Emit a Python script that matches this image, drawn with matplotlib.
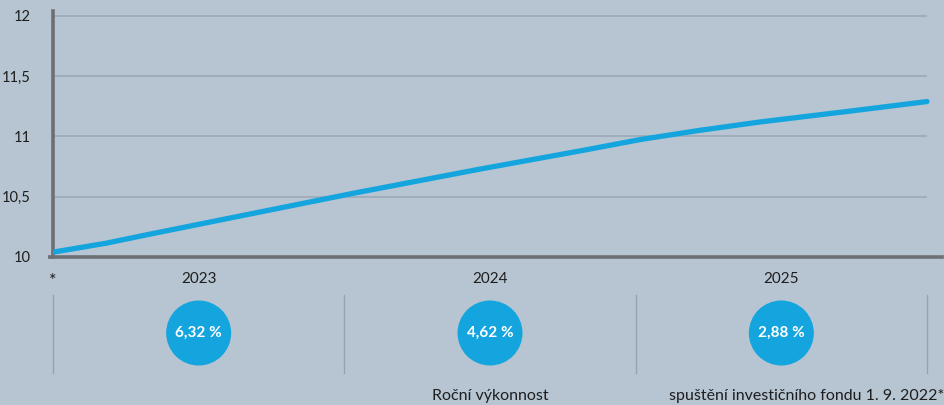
import matplotlib
matplotlib.use("Agg")
import matplotlib.pyplot as plt
from matplotlib.patches import Circle

plt.rcParams['font.family'] = ['Lato', 'DejaVu Sans']

# Data (months since fund launch 1. 9. 2022, NAV value)
months = [0, 2.2, 4, 7.7, 12.4, 17.6, 21.7, 24.2, 26.6, 29.1, 32.8, 36]
values = [10.04, 10.115, 10.19, 10.34, 10.53, 10.73, 10.88, 10.975, 11.05, 11.12, 11.21, 11.29]
y_ticks = [10, 10.5, 11, 11.5, 12]
y_tick_labels = ["10", "10,5", "11", "11,5", "12"]
years = ["2023", "2024", "2025"]
year_returns = ["6,32 %", "4,62 %", "2,88 %"]
period_edges = [0, 12, 24, 36]
caption_left = "Roční výkonnost"
caption_right = "spuštění investičního fondu 1. 9. 2022*"

BG = "#b6c5d1"
GRID = "#9dacb8"
AXIS = "#6c7073"
BLUE = "#14a5df"
TEXT = "#1e1e1e"

W, H = 945, 405
fig = plt.figure(figsize=(W / 100, H / 100), dpi=100, facecolor=BG)

x_end = 36 * (942 - 53) / (927 - 53)
ax = fig.add_axes([53 / W, 1 - 257 / H, (942 - 53) / W, (257 - 11) / H])
ax.set_facecolor(BG)
ax.set_xlim(0, x_end)
ax.set_ylim(10, 12 + 5 / 120.5)

for t in y_ticks[1:]:
    ax.plot([0, 36], [t, t], color=GRID, lw=1.3, zorder=1, solid_capstyle='butt')

ax.plot(months, values, color=BLUE, lw=3.8, solid_capstyle='round',
        solid_joinstyle='round', zorder=3)

for s in ['top', 'right']:
    ax.spines[s].set_visible(False)
ax.spines['left'].set_color(AXIS)
ax.spines['left'].set_linewidth(2.6)
ax.spines['bottom'].set_color(AXIS)
ax.spines['bottom'].set_linewidth(2.6)
ax.set_xticks([])
ax.set_yticks(y_ticks)
ax.set_yticklabels(y_tick_labels, fontsize=10.5, color=TEXT)
ax.tick_params(axis='y', length=0, pad=16)
# small left extension of the base line
ax.plot([-0.22, 0], [10, 10], color=AXIS, lw=2.6, clip_on=False, solid_capstyle='butt')

fig.canvas.draw()

def px(m):
    return ax.transData.transform((m, 10))[0]

ov = fig.add_axes([0, 0, 1, 1], facecolor='none')
ov.set_xlim(0, W)
ov.set_ylim(H, 0)
ov.axis('off')

ov.text(px(0), 281, "*", ha='center', va='center', fontsize=13, color=TEXT)
for i, (yr, ret) in enumerate(zip(years, year_returns)):
    cx = (px(period_edges[i]) + px(period_edges[i + 1])) / 2
    ov.text(cx, 279, yr, ha='center', va='center', fontsize=11, color=TEXT)
    ov.add_patch(Circle((cx, 333), 32.5, color=BLUE, lw=0))
    ov.text(cx, 333, ret, ha='center', va='center', fontsize=11,
            fontweight='bold', color='white')
for e in period_edges:
    xe = px(e)
    ov.plot([xe, xe], [295, 373], color="#97a4ae", lw=1.0)

ov.text(px(18), 396, caption_left, ha='center', va='center', fontsize=11.5, color=TEXT)
ov.text(944, 396, caption_right, ha='right', va='center', fontsize=11.5, color=TEXT)

fig.savefig("out.png", dpi=100, facecolor=BG)
